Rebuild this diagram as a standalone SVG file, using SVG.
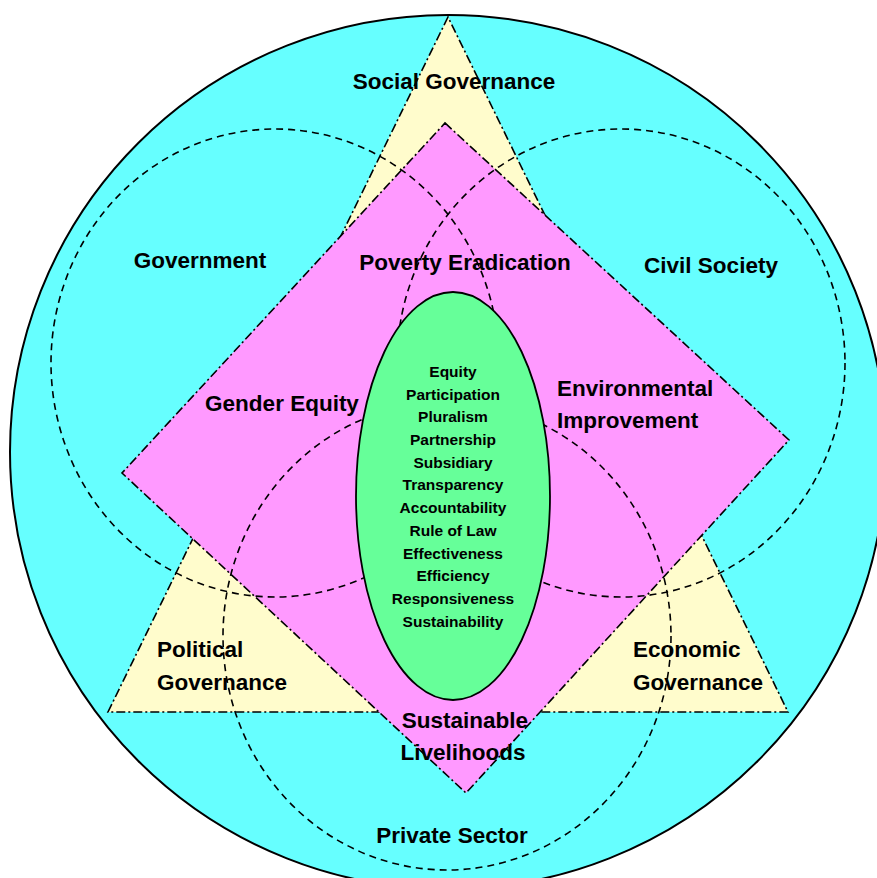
<svg xmlns="http://www.w3.org/2000/svg" width="877" height="878" viewBox="0 0 877 878">
<style>
.lbl{font-family:"Liberation Sans",Arial,sans-serif;font-weight:bold;font-size:22.5px;fill:#000;}
.mid{text-anchor:middle;}
.small{font-family:"Liberation Sans",Arial,sans-serif;font-weight:bold;font-size:15.5px;fill:#000;text-anchor:middle;}
.dashdot{stroke:#000;stroke-width:1.6;stroke-dasharray:9 3 2 3;}
.dashed{fill:none;stroke:#000;stroke-width:1.6;stroke-dasharray:7 5;}
</style>
<rect width="877" height="878" fill="#fff"/>
<g id="outer-circle">
<ellipse cx="448" cy="452" rx="438" ry="437" fill="#66FFFF" stroke="#000" stroke-width="2"/>
</g>
<g id="governance-triangle">
<polygon points="448,17 108,712 788,712" fill="#FFFCCC" class="dashdot"/>
<text class="lbl mid" x="454" y="89">Social Governance</text>
<text class="lbl" x="157" y="657">Political</text>
<text class="lbl" x="157" y="690">Governance</text>
<text class="lbl" x="633" y="657">Economic</text>
<text class="lbl" x="633" y="690">Governance</text>
</g>
<g id="goals-diamond">
<polygon points="445,123 789,440 466,793 122,473" fill="#FF99FF" class="dashdot"/>
<text class="lbl mid" x="465" y="270">Poverty Eradication</text>
<text class="lbl mid" x="282" y="411">Gender Equity</text>
<text class="lbl" x="557" y="396">Environmental</text>
<text class="lbl" x="557" y="428">Improvement</text>
<text class="lbl mid" x="465" y="728">Sustainable</text>
<text class="lbl mid" x="463" y="760">Livelihoods</text>
</g>
<g id="government">
<ellipse cx="275" cy="363" rx="224" ry="234" class="dashed"/>
<text class="lbl mid" x="200" y="268">Government</text>
</g>
<g id="civil-society">
<ellipse cx="621" cy="363" rx="224" ry="234" class="dashed"/>
<text class="lbl mid" x="711" y="273">Civil Society</text>
</g>
<g id="private-sector">
<ellipse cx="447" cy="636" rx="224" ry="234" class="dashed"/>
<text class="lbl mid" x="452" y="843">Private Sector</text>
</g>
<g id="principles">
<ellipse cx="453" cy="496" rx="97" ry="204" fill="#66FF99" stroke="#000" stroke-width="1.8"/>
<text class="small" x="453" y="377">Equity</text>
<text class="small" x="453" y="400">Participation</text>
<text class="small" x="453" y="422">Pluralism</text>
<text class="small" x="453" y="445">Partnership</text>
<text class="small" x="453" y="468">Subsidiary</text>
<text class="small" x="453" y="490">Transparency</text>
<text class="small" x="453" y="513">Accountability</text>
<text class="small" x="453" y="536">Rule of Law</text>
<text class="small" x="453" y="559">Effectiveness</text>
<text class="small" x="453" y="581">Efficiency</text>
<text class="small" x="453" y="604">Responsiveness</text>
<text class="small" x="453" y="627">Sustainability</text>
</g>
<g id="connectors"/>
</svg>
